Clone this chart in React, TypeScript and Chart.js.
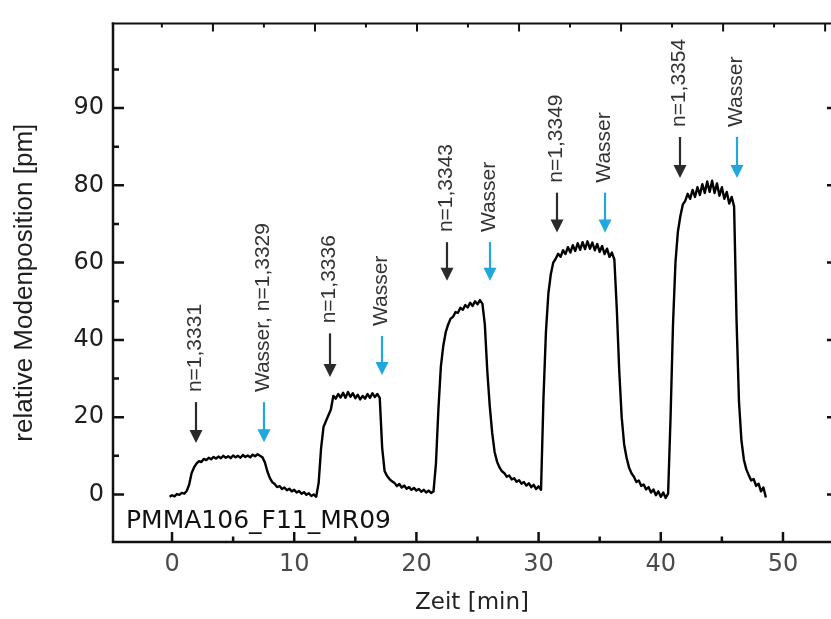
import React, { useEffect, useRef } from 'react';
import { Chart, registerables } from 'chart.js';

Chart.register(...registerables);

// ---- data: time [min] and relative mode position [pm] ----
const TIME = [
  -0.2, 0, 0.2, 0.4, 0.6, 0.8, 1.0, 1.2, 1.4, 1.6,
  1.8, 2.0, 2.2, 2.4, 2.6, 2.8, 3.0, 3.2, 3.4, 3.6,
  3.8, 4.0, 4.2, 4.4, 4.6, 4.8, 5.0, 5.2, 5.4, 5.6,
  5.8, 6.0, 6.2, 6.4, 6.6, 6.8, 7.0, 7.2, 7.4, 7.6,
  7.8, 8.0, 8.2, 8.4, 8.6, 8.8, 9.0, 9.2, 9.4, 9.6,
  9.8, 10.0, 10.2, 10.4, 10.6, 10.8, 11.0, 11.2, 11.4, 11.6,
  11.8, 12.0, 12.2, 12.4, 12.6, 12.8, 13.0, 13.2, 13.4, 13.6,
  13.8, 14.0, 14.2, 14.4, 14.6, 14.8, 15.0, 15.2, 15.4, 15.6,
  15.8, 16.0, 16.2, 16.4, 16.6, 16.8, 17.0, 17.2, 17.4, 17.6,
  17.8, 18.0, 18.2, 18.4, 18.6, 18.8, 19.0, 19.2, 19.4, 19.6,
  19.8, 20.0, 20.2, 20.4, 20.6, 20.8, 21.0, 21.2, 21.4, 21.6,
  21.8, 22.0, 22.2, 22.4, 22.6, 22.8, 23.0, 23.2, 23.4, 23.6,
  23.8, 24.0, 24.2, 24.4, 24.6, 24.8, 25.0, 25.2, 25.4, 25.6,
  25.8, 26.0, 26.2, 26.4, 26.6, 26.8, 27.0, 27.2, 27.4, 27.6,
  27.8, 28.0, 28.2, 28.4, 28.6, 28.8, 29.0, 29.2, 29.4, 29.6,
  29.8, 30.0, 30.2, 30.4, 30.6, 30.8, 31.0, 31.2, 31.4, 31.6,
  31.8, 32.0, 32.2, 32.4, 32.6, 32.8, 33.0, 33.2, 33.4, 33.6,
  33.8, 34.0, 34.2, 34.4, 34.6, 34.8, 35.0, 35.2, 35.4, 35.6,
  35.8, 36.0, 36.2, 36.4, 36.6, 36.8, 37.0, 37.2, 37.4, 37.6,
  37.8, 38.0, 38.2, 38.4, 38.6, 38.8, 39.0, 39.2, 39.4, 39.6,
  39.8, 40.0, 40.2, 40.4, 40.6, 40.8, 41.0, 41.2, 41.4, 41.6,
  41.8, 42.0, 42.2, 42.4, 42.6, 42.8, 43.0, 43.2, 43.4, 43.6,
  43.8, 44.0, 44.2, 44.4, 44.6, 44.8, 45.0, 45.2, 45.4, 45.6,
  45.8, 46.0, 46.2, 46.4, 46.6, 46.8, 47.0, 47.2, 47.4, 47.6,
  47.8, 48.0, 48.2, 48.4, 48.6,
];

const SHIFT = [
  -0.6, -0.2, -0.5, 0.1, -0.1, 0.4, 0.2, 0.9, 2.5, 5.5,
  7.0, 8.0, 8.6, 8.4, 9.2, 8.9, 9.5, 9.1, 9.7, 9.3,
  9.8, 9.4, 10.0, 9.5, 9.9, 9.4, 10.1, 9.6, 10.0, 9.5,
  10.2, 9.7, 10.1, 9.6, 10.3, 9.9, 10.4, 10.0, 9.6, 8.3,
  6.0, 4.3, 3.2, 2.7, 1.9, 2.2, 1.4, 1.8, 1.1, 1.5,
  0.8, 1.2, 0.5, 0.9, 0.2, 0.6, -0.1, 0.3, -0.4, 0.0,
  -0.6, 3.0, 12.0, 17.5, 19.0, 20.5, 22.0, 25.5, 24.8, 26.0,
  25.1, 26.3, 25.0, 26.5, 25.3, 26.2, 24.9, 25.8, 24.6, 25.5,
  24.8, 26.0, 25.0, 26.2, 25.2, 26.0, 25.0, 12.0, 6.0, 4.8,
  4.0, 3.4, 3.0, 2.2, 2.7, 1.8, 2.3, 1.5, 1.9, 1.2,
  1.7, 1.0, 1.4, 0.7, 1.2, 0.5, 1.0, 0.4, 0.8, 8.0,
  22.0, 33.0, 38.5, 42.0, 44.0, 45.5, 46.0, 47.2, 47.0, 48.3,
  47.8, 49.0, 48.4, 49.6, 48.8, 50.0, 49.2, 50.3, 49.4, 44.0,
  32.0, 23.0, 16.0, 11.0, 8.5, 7.0, 6.0, 5.5, 4.6, 4.9,
  3.9, 4.2, 3.3, 3.7, 2.8, 3.2, 2.3, 2.9, 1.9, 2.5,
  1.4, 2.1, 1.2, 25.0, 42.0, 52.0, 57.0, 60.0, 61.0, 62.3,
  61.5, 63.2, 62.2, 64.0, 62.6, 64.5, 63.0, 65.0, 63.3, 65.3,
  63.5, 65.5, 63.6, 65.2, 63.2, 64.8, 62.8, 64.3, 62.2, 63.6,
  61.5, 62.6, 60.8, 48.0, 32.0, 20.0, 13.0, 9.5, 7.0, 5.5,
  4.6, 3.2, 3.6, 2.2, 2.6, 1.3, 1.9, 0.5, 1.3, -0.2,
  0.8, -0.6, 0.5, -0.9, 0.2, 20.0, 44.0, 60.0, 68.0, 72.0,
  75.0, 76.0, 77.8, 76.5, 78.8, 77.0, 79.5, 77.5, 80.3, 78.0,
  81.0, 78.3, 81.2, 78.0, 80.5, 77.3, 79.5, 76.5, 78.3, 75.3,
  77.0, 74.5, 45.0, 24.0, 14.0, 9.0, 6.5, 5.0, 3.6, 4.0,
  2.2, 2.8, 0.8, 1.8, -0.8,
];

// ---- annotations (arrows) ----
const ARROW_T = [2.0, 7.5, 12.9, 17.2, 22.5, 26.0, 31.5, 35.4, 41.6, 46.2];
const ARROW_TIP = [13.3, 13.5, 30.4, 30.9, 55.3, 55.3, 67.8, 67.8, 81.9, 81.9];
const ARROW_TOP = [23.9, 23.9, 41.7, 41.0, 65.3, 65.3, 78.1, 78.1, 92.5, 92.5];
const ARROW_KIND = ['n', 'w', 'n', 'w', 'n', 'w', 'n', 'w', 'n', 'w'];
const ARROW_LABELS = [
  'n=1,3331', 'Wasser, n=1,3329', 'n=1,3336', 'Wasser', 'n=1,3343',
  'Wasser', 'n=1,3349', 'Wasser', 'n=1,3354', 'Wasser',
];
const SAMPLE_LABEL = 'PMMA106_F11_MR09';

// ---- axes ----
const X_MIN = -4.83;
const X_MAX = 53.93;
const Y_MIN = -12.3;
const Y_MAX = 121.9;
const X_TICK_VALUES = [0, 10, 20, 30, 40, 50];
const X_MINOR_TICKS = [5, 15, 25, 35, 45];
const Y_TICK_VALUES = [0, 20, 40, 60, 80, 100];
const Y_TICK_LABELS = ['0', '20', '40', '60', '80', '90'];
const Y_MINOR_TICKS = [10, 30, 50, 70, 90, 110];
const TOP_MAJOR_TICKS = [3.35, 11.7, 20.05, 28.4, 36.75, 45.1, 53.45];
const TOP_MINOR_TICKS = [-0.83, 7.52, 15.87, 24.22, 32.57, 40.92, 49.27];
const RIGHT_AXIS_X = 54.5;

const FONT = "'Liberation Sans', Arial, Helvetica, sans-serif";
const WIDE_FONT = "'DejaVu Sans', 'Liberation Sans', sans-serif";
const BLUE = '#1fa7de';
const DARK = '#2b2b2b';
const AXIS = '#111111';

const overlayPlugin = {
  id: 'overlay',
  afterDatasetsDraw(chart: any) {
    const { ctx, chartArea: a, scales } = chart;
    const xs = scales.x;
    const ys = scales.y;
    ctx.save();

    // arrows + labels
    for (let i = 0; i < ARROW_T.length; i++) {
      const x = Math.round(xs.getPixelForValue(ARROW_T[i]));
      const yTop = ys.getPixelForValue(ARROW_TOP[i]);
      const yTip = ys.getPixelForValue(ARROW_TIP[i]);
      const color = ARROW_KIND[i] === 'w' ? BLUE : DARK;
      ctx.strokeStyle = color;
      ctx.fillStyle = color;
      ctx.lineWidth = 2.2;
      ctx.beginPath();
      ctx.moveTo(x, yTop);
      ctx.lineTo(x, yTip - 10);
      ctx.stroke();
      ctx.beginPath();
      ctx.moveTo(x - 6.5, yTip - 13);
      ctx.lineTo(x + 6.5, yTip - 13);
      ctx.lineTo(x, yTip);
      ctx.closePath();
      ctx.fill();

      ctx.save();
      ctx.translate(x - 1, yTop - 10);
      ctx.rotate(-Math.PI / 2);
      ctx.fillStyle = '#333333';
      ctx.font = `21px ${FONT}`;
      ctx.textAlign = 'left';
      ctx.textBaseline = 'middle';
      ctx.fillText(ARROW_LABELS[i], 0, 0);
      ctx.restore();
    }

    // sample name
    ctx.fillStyle = '#111111';
    ctx.font = `25px ${WIDE_FONT}`;
    ctx.textAlign = 'left';
    ctx.textBaseline = 'alphabetic';
    ctx.fillText(SAMPLE_LABEL, a.left + 13, a.bottom - 14);

    // frame
    ctx.strokeStyle = AXIS;
    ctx.lineWidth = 2.5;
    ctx.beginPath();
    ctx.moveTo(a.left, a.top - 1);
    ctx.lineTo(a.left, a.bottom + 1.25);
    ctx.moveTo(a.left - 1.25, a.bottom);
    ctx.lineTo(a.right, a.bottom);
    ctx.stroke();
    ctx.lineWidth = 2;
    ctx.beginPath();
    ctx.moveTo(a.left - 1.25, a.top);
    ctx.lineTo(a.right, a.top);
    ctx.stroke();

    // inward ticks
    ctx.lineWidth = 2.5;
    ctx.beginPath();
    const xRight = xs.getPixelForValue(RIGHT_AXIS_X);
    Y_TICK_VALUES.forEach((v) => {
      const y = ys.getPixelForValue(v);
      ctx.moveTo(a.left, y); ctx.lineTo(a.left + 11, y);
      ctx.moveTo(xRight, y); ctx.lineTo(xRight - 11, y);
    });
    Y_MINOR_TICKS.forEach((v) => {
      const y = ys.getPixelForValue(v);
      ctx.moveTo(a.left, y); ctx.lineTo(a.left + 6, y);
      ctx.moveTo(xRight, y); ctx.lineTo(xRight - 6, y);
    });
    X_TICK_VALUES.forEach((v) => {
      const x = xs.getPixelForValue(v);
      ctx.moveTo(x, a.bottom); ctx.lineTo(x, a.bottom - 10);
    });
    X_MINOR_TICKS.forEach((v) => {
      const x = xs.getPixelForValue(v);
      ctx.moveTo(x, a.bottom); ctx.lineTo(x, a.bottom - 5.5);
    });
    ctx.stroke();
    ctx.lineWidth = 2;
    ctx.beginPath();
    TOP_MAJOR_TICKS.forEach((v) => {
      const x = xs.getPixelForValue(v);
      ctx.moveTo(x, a.top); ctx.lineTo(x, a.top + 8);
    });
    TOP_MINOR_TICKS.forEach((v) => {
      const x = xs.getPixelForValue(v);
      ctx.moveTo(x, a.top); ctx.lineTo(x, a.top + 4);
    });
    ctx.stroke();

    ctx.restore();
  },
};

export default function App() {
  const ref = useRef<HTMLCanvasElement>(null);

  useEffect(() => {
    const canvas = ref.current;
    if (!canvas) return;
    const chart = new Chart(canvas, {
      type: 'line',
      data: {
        datasets: [
          {
            label: SAMPLE_LABEL,
            data: TIME.map((t, i) => ({ x: t, y: SHIFT[i] })),
            borderColor: '#000000',
            borderWidth: 2.4,
            borderJoinStyle: 'round',
            pointRadius: 0,
            tension: 0,
            fill: false,
          },
        ],
      },
      options: {
        animation: false,
        responsive: false,
        maintainAspectRatio: false,
        devicePixelRatio: 1,
        layout: { padding: { top: 9, right: 0, left: 0, bottom: 0 } },
        plugins: {
          legend: { display: false },
          tooltip: { enabled: false },
        },
        scales: {
          x: {
            type: 'linear',
            min: X_MIN,
            max: X_MAX,
            afterBuildTicks: (s: any) => {
              s.ticks = X_TICK_VALUES.map((v) => ({ value: v }));
            },
            afterFit: (s: any) => {
              s.height = 77;
            },
            grid: { display: false, drawTicks: false },
            border: { display: false },
            ticks: {
              color: '#4a4a4a',
              font: { family: WIDE_FONT, size: 24 },
              padding: 8,
              maxRotation: 0,
              autoSkip: false,
            },
            title: {
              display: true,
              text: 'Zeit [min]',
              color: '#222222',
              font: { family: WIDE_FONT, size: 23 },
              padding: { top: 0, bottom: 2 },
            },
          },
          y: {
            type: 'linear',
            min: Y_MIN,
            max: Y_MAX,
            afterBuildTicks: (s: any) => {
              s.ticks = Y_TICK_VALUES.map((v) => ({ value: v }));
            },
            afterFit: (s: any) => {
              s.width = 113;
            },
            grid: { display: false, drawTicks: false },
            border: { display: false },
            ticks: {
              color: '#1e1e1e',
              font: { family: WIDE_FONT, size: 24 },
              padding: 9,
              autoSkip: false,
              callback: (value: any) => {
                const idx = Y_TICK_VALUES.indexOf(Number(value));
                return idx >= 0 ? Y_TICK_LABELS[idx] : '';
              },
            },
            title: {
              display: true,
              text: 'relative Modenposition [pm]',
              color: '#1e1e1e',
              font: { family: FONT, size: 26 },
              padding: { top: 9, bottom: 0 },
            },
          },
        },
      },
      plugins: [overlayPlugin],
    });
    return () => chart.destroy();
  }, []);

  return (
    <div
      style={{
        position: 'fixed',
        left: 0,
        top: 0,
        width: 831,
        height: 619,
        background: '#ffffff',
        overflow: 'hidden',
      }}
    >
      <canvas ref={ref} width={831} height={619} style={{ display: 'block', width: 831, height: 619 }} />
    </div>
  );
}
